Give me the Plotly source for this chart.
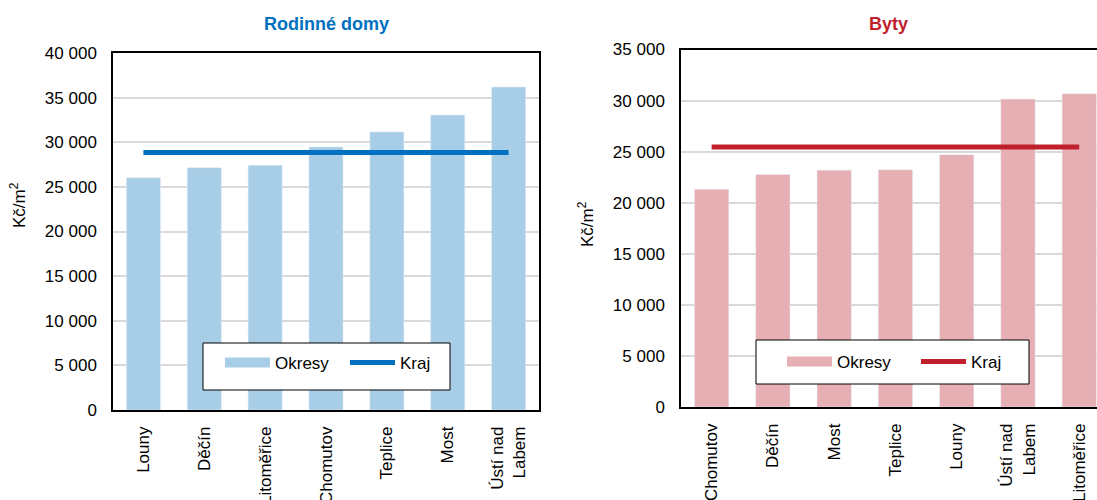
import plotly.graph_objects as go

# Data
rd_categories = ["Louny", "Děčín", "Litoměřice", "Chomutov", "Teplice", "Most", "Ústí nad<br>Labem"]
rd_okresy = [26030, 27150, 27420, 29470, 31150, 33050, 36190]
rd_kraj = 28850

byty_categories = ["Chomutov", "Děčín", "Most", "Teplice", "Louny", "Ústí nad<br>Labem", "Litoměřice"]
byty_okresy = [21330, 22770, 23190, 23220, 24690, 30150, 30670]
byty_kraj = 25450

left_ticks = [0, 5000, 10000, 15000, 20000, 25000, 30000, 35000, 40000]
right_ticks = [0, 5000, 10000, 15000, 20000, 25000, 30000, 35000]

def fmt(v):
    return f"{v:,}".replace(",", " ")

W, H = 1097, 500
FONT = "Liberation Sans, Arial, sans-serif"
FS = 17
BLUE_BAR = "#A7CDE7"
BLUE_LINE = "#0070C0"
RED_BAR = "#E6AFB3"
RED_LINE = "#C0202C"

fig = go.Figure()

# Left chart
fig.add_trace(go.Bar(x=rd_categories, y=rd_okresy, marker_color=BLUE_BAR, width=0.56,
                     xaxis="x", yaxis="y", showlegend=False, legendgroup="a"))
fig.add_trace(go.Scatter(x=[None], y=[None], mode="lines", name="Okresy",
                         line=dict(color=BLUE_BAR, width=10), xaxis="x", yaxis="y",
                         legend="legend", legendgroup="a"))
fig.add_trace(go.Scatter(x=rd_categories, y=[rd_kraj] * len(rd_categories), mode="lines",
                         name="Kraj", line=dict(color=BLUE_LINE, width=5),
                         xaxis="x", yaxis="y", legend="legend"))

# Right chart
fig.add_trace(go.Bar(x=byty_categories, y=byty_okresy, marker_color=RED_BAR, width=0.56,
                     xaxis="x2", yaxis="y2", showlegend=False, legendgroup="b"))
fig.add_trace(go.Scatter(x=[None], y=[None], mode="lines", name="Okresy",
                         line=dict(color=RED_BAR, width=10), xaxis="x2", yaxis="y2",
                         legend="legend2", legendgroup="b"))
fig.add_trace(go.Scatter(x=byty_categories, y=[byty_kraj] * len(byty_categories), mode="lines",
                         name="Kraj", line=dict(color=RED_LINE, width=5),
                         xaxis="x2", yaxis="y2", legend="legend2"))

L0, L1 = 113 / W, 539 / W
R0, R1 = 681 / W, 1.0
LY0, LY1 = 1 - 410 / H, 1 - 53 / H
RY0, RY1 = 1 - 407 / H, 1 - 49.5 / H

tickfont = dict(family=FONT, size=FS, color="black")

def px(x):
    return x / W

def py(y):
    return 1 - y / H

fig.update_layout(
    width=W, height=H,
    margin=dict(l=0, r=0, t=0, b=0),
    paper_bgcolor="white", plot_bgcolor="white",
    font=dict(family=FONT, size=FS, color="black"),
    xaxis=dict(domain=[L0, L1], anchor="y", range=[-0.5, 6.5], tickangle=-90,
               ticklabelstandoff=8, showline=True, linecolor="black", linewidth=1.5,
               mirror=True, tickfont=tickfont, automargin=False),
    yaxis=dict(domain=[LY0, LY1], anchor="x", range=[0, 40000], tickvals=left_ticks,
               ticktext=[fmt(v) for v in left_ticks], showgrid=True, gridcolor="#D9D9D9",
               gridwidth=1.5, ticklabelstandoff=11, automargin=False,
               showline=True, linecolor="black", linewidth=1.5, mirror=True,
               tickfont=tickfont),
    xaxis2=dict(domain=[R0, R1], anchor="y2", range=[-0.5, 6.29], tickangle=-90,
                ticklabelstandoff=8, showline=True, linecolor="black", linewidth=1.5,
                mirror=True, tickfont=tickfont, automargin=False),
    yaxis2=dict(domain=[RY0, RY1], anchor="x2", range=[0, 35000], tickvals=right_ticks,
                ticktext=[fmt(v) for v in right_ticks], showgrid=True, gridcolor="#D9D9D9",
                gridwidth=1.5, ticklabelstandoff=11, automargin=False,
                showline=True, linecolor="black", linewidth=1.5, mirror=False,
                tickfont=tickfont),
    legend=dict(orientation="h", x=px(220), xanchor="left", y=py(363), yanchor="middle",
                bgcolor="rgba(0,0,0,0)", borderwidth=0, itemwidth=45, entrywidth=65,
                font=dict(family=FONT, size=FS)),
    legend2=dict(orientation="h", x=px(782), xanchor="left", y=py(362), yanchor="middle",
                 bgcolor="rgba(0,0,0,0)", borderwidth=0, itemwidth=45, entrywidth=74,
                 font=dict(family=FONT, size=FS)),
    shapes=[
        dict(type="rect", xref="paper", yref="paper", x0=px(203), x1=px(450),
             y0=py(390), y1=py(343), line=dict(color="black", width=1), fillcolor="white",
             layer="above"),
        dict(type="rect", xref="paper", yref="paper", x0=px(756), x1=px(1029),
             y0=py(384), y1=py(340), line=dict(color="black", width=1), fillcolor="white",
             layer="above"),
    ],
    annotations=[
        dict(text="<b>Rodinné domy</b>", x=px(326), y=py(24), xref="paper", yref="paper",
             xanchor="center", yanchor="middle",
             showarrow=False, font=dict(family=FONT, size=18, color="#0070C0")),
        dict(text="<b>Byty</b>", x=px(888), y=py(24), xref="paper", yref="paper",
             xanchor="center", yanchor="middle",
             showarrow=False, font=dict(family=FONT, size=18, color="#C0202C")),
        dict(text="Kč/m<sup>2</sup>", x=px(18), y=py(205), xref="paper", yref="paper",
             xanchor="center", yanchor="middle",
             showarrow=False, textangle=-90, font=dict(family=FONT, size=FS)),
        dict(text="Kč/m<sup>2</sup>", x=px(586), y=py(224), xref="paper", yref="paper",
             xanchor="center", yanchor="middle",
             showarrow=False, textangle=-90, font=dict(family=FONT, size=FS)),
    ],
    bargap=0.44,
)

fig.write_html("out.html")
